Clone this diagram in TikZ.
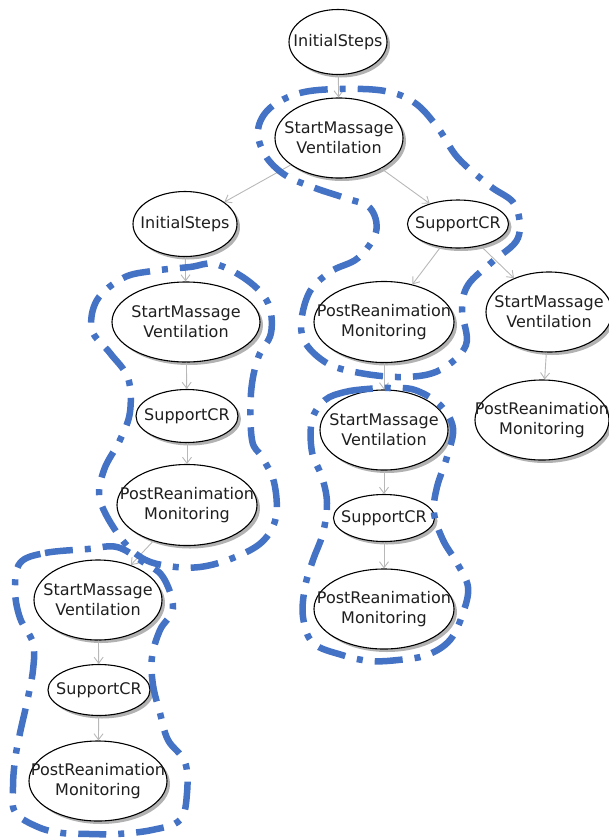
\documentclass[tikz,border=0pt]{standalone}
\usepackage{fontspec}
\newfontfamily\dv{DejaVu Sans}
\usetikzlibrary{shapes.geometric,shadows,arrows.meta}
\definecolor{hlblue}{RGB}{68,114,196}
\newcommand\zl[1]{\makebox[0pt]{#1}}
\tikzset{
  st/.style={ellipse, draw=black, line width=1.1pt, fill=white, inner sep=0pt,
    align=center, text=black!88, font=\dv\fontsize{16pt}{20pt}\selectfont,
    drop shadow={shadow xshift=3pt, shadow yshift=-3pt, fill=black!30, opacity=1}},
  sz/.style 2 args={minimum width=#1pt, minimum height=#2pt},
  ed/.style={draw=black!28, line width=0.9pt, -{Straight Barb[length=6pt,width=9pt]}},
  hl/.style={draw=hlblue, line width=6.5pt, line cap=butt,
    dash pattern=on 28pt off 12pt on 6pt off 12pt},
}
\begin{document}
\begin{tikzpicture}[x=1pt,y=-1pt]
\useasboundingbox (0,0) rectangle (609,838);
\node[st, sz={98}{65}]  (n1)  at (338,42)  {\zl{InitialSteps}};
\node[st, sz={128}{80}] (n2)  at (339,138) {\zl{StartMassage}\\\zl{Ventilation}};
\node[st, sz={104}{65}] (n3)  at (185,224) {\zl{InitialSteps}};
\node[st, sz={101}{48}] (n4)  at (458,224) {\zl{SupportCR}};
\node[st, sz={148}{80}] (n5)  at (186,322) {\zl{StartMassage}\\\zl{Ventilation}};
\node[st, sz={140}{81}] (n6)  at (384,322) {\zl{PostReanimation}\\\zl{Monitoring}};
\node[st, sz={126}{80}] (n7)  at (549,312) {\zl{StartMassage}\\\zl{Ventilation}};
\node[st, sz={102}{53}] (n8)  at (187,416) {\zl{SupportCR}};
\node[st, sz={128}{80}] (n9)  at (384,430) {\zl{StartMassage}\\\zl{Ventilation}};
\node[st, sz={134}{80}] (n10) at (542,420) {\zl{PostReanimation}\\\zl{Monitoring}};
\node[st, sz={140}{81}] (n11) at (187,505) {\zl{PostReanimation}\\\zl{Monitoring}};
\node[st, sz={101}{47}] (n12) at (384,518) {\zl{SupportCR}};
\node[st, sz={128}{80}] (n13) at (98,600)  {\zl{StartMassage}\\\zl{Ventilation}};
\node[st, sz={140}{80}] (n14) at (384,609) {\zl{PostReanimation}\\\zl{Monitoring}};
\node[st, sz={102}{51}] (n15) at (99,690)  {\zl{SupportCR}};
\node[st, sz={138}{80}] (n16) at (98,781)  {\zl{PostReanimation}\\\zl{Monitoring}};
\draw[ed] (n1) -- (n2);
\draw[ed] (n2) -- (n3);
\draw[ed] (n2) -- (n4);
\draw[ed] (n3) -- (n5);
\draw[ed] (n4) -- (n6);
\draw[ed] (n4) -- (n7);
\draw[ed] (n5) -- (n8);
\draw[ed] (n6) -- (n9);
\draw[ed] (n7) -- (n10);
\draw[ed] (n8) -- (n11);
\draw[ed] (n9) -- (n12);
\draw[ed] (n11) -- (n13);
\draw[ed] (n12) -- (n14);
\draw[ed] (n13) -- (n15);
\draw[ed] (n15) -- (n16);
% highlighted paths
\draw[hl] plot[smooth cycle, tension=0.6] coordinates {
  (270,108) (300,93) (340,89) (385,91) (415,103) (438,128) (458,158) (490,186)
  (515,205) (518,238) (492,262) (468,285) (462,310) (466,345) (440,370) (405,377)
  (360,373) (325,362) (302,335) (308,295) (330,272) (358,258) (376,232) (370,208)
  (345,198) (315,188) (285,175) (265,155) (258,130)};
\draw[hl] plot[smooth cycle, tension=0.6] coordinates {
  (97,300) (123,278) (152,271) (190,267) (215,264) (247,280) (268,303) (271,333)
  (258,358) (251,393) (252,440) (262,457) (274,482) (276,517) (262,542) (233,558)
  (200,567) (168,566) (142,558) (120,537) (100,500) (104,470) (120,440) (130,412)
  (128,378) (110,353) (92,330)};
\draw[hl] plot[smooth cycle, tension=0.6] coordinates {
  (20,563) (45,553) (88,549) (117,547) (143,562) (163,577) (173,608) (160,630)
  (152,657) (153,685) (160,713) (168,740) (185,762) (187,793) (180,820) (152,830)
  (117,834) (90,834) (62,833) (38,827) (15,812) (13,787) (15,760) (20,733)
  (27,702) (33,670) (33,643) (20,618) (15,590)};
\draw[hl] plot[smooth cycle, tension=0.6] coordinates {
  (325,400) (345,392) (367,389) (390,388) (415,390) (440,405) (453,428) (447,457)
  (437,487) (434,513) (443,540) (457,563) (468,587) (463,613) (450,640) (427,655)
  (398,660) (370,661) (342,655) (313,643) (303,617) (305,587) (313,560) (323,533)
  (327,503) (322,477) (312,452) (312,420)};
\end{tikzpicture}
\end{document}
